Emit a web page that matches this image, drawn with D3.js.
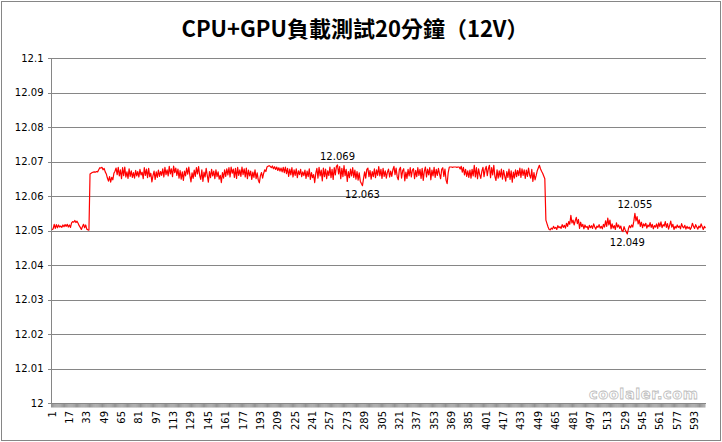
<!DOCTYPE html>
<html>
<head>
<meta charset="utf-8">
<script src="https://cdn.jsdelivr.net/npm/d3@7"></script>
<style>
  html, body { margin: 0; padding: 0; background: #fff; }
  svg { display: block; }
</style>
</head>
<body>
<div id="chart"></div>
<script>
const titleText = "CPU+GPU負載測試20分鐘（12V）";
const yTicks = [12, 12.01, 12.02, 12.03, 12.04, 12.05, 12.06, 12.07, 12.08, 12.09, 12.1];
const yDomain = [12, 12.1];
const xLabelStep = 16;

const idleStart = [
12.0502,12.0505,12.0518,12.0506,12.0517,12.0508,12.0516,12.0510,12.0513,12.0509,
12.0516,12.0511,12.0517,12.0512,12.0518,12.0510,12.0516,12.0509,12.0522,12.0526,
12.0524,12.0529,12.0523,12.0527,12.0521,12.0514,12.0509,12.0503,12.0511,12.0518,
12.0508,12.0516,12.0504,12.0502,12.0501
];
const loadPhase = [
12.0664,12.0666,12.0668,12.0669,12.0670,12.0669,12.0671,12.0670,12.0676,12.0682,12.0681,12.0683,12.0676,12.0680,12.0670,12.0664,12.0652,12.0643,12.0656,12.0640,
12.0654,12.0647,12.0666,12.0672,12.0681,12.0662,12.0683,12.0658,12.0676,12.0650,12.0682,12.0659,12.0684,12.0655,12.0670,12.0651,12.0679,12.0657,12.0673,12.0654,
12.0668,12.0652,12.0674,12.0658,12.0671,12.0655,12.0677,12.0661,12.0669,12.0650,12.0682,12.0660,12.0678,12.0653,12.0680,12.0656,12.0666,12.0641,12.0659,12.0672,
12.0648,12.0670,12.0654,12.0675,12.0657,12.0671,12.0660,12.0679,12.0655,12.0683,12.0662,12.0676,12.0658,12.0686,12.0664,12.0679,12.0656,12.0687,12.0668,12.0681,
12.0660,12.0678,12.0652,12.0674,12.0649,12.0670,12.0645,12.0672,12.0658,12.0681,12.0663,12.0684,12.0659,12.0641,12.0667,12.0651,12.0675,12.0657,12.0682,12.0664,
12.0685,12.0660,12.0648,12.0676,12.0642,12.0669,12.0655,12.0680,12.0660,12.0640,12.0671,12.0653,12.0677,12.0658,12.0672,12.0650,12.0676,12.0656,12.0670,12.0649,
12.0660,12.0639,12.0668,12.0652,12.0676,12.0657,12.0679,12.0661,12.0682,12.0655,12.0684,12.0666,12.0678,12.0654,12.0680,12.0651,12.0683,12.0660,12.0676,12.0657,
12.0684,12.0662,12.0679,12.0655,12.0681,12.0650,12.0675,12.0658,12.0672,12.0648,12.0669,12.0654,12.0676,12.0650,12.0667,12.0646,12.0638,12.0659,12.0668,12.0652,
12.0666,12.0676,12.0671,12.0684,12.0686,12.0688,12.0686,12.0682,12.0687,12.0679,12.0685,12.0677,12.0684,12.0674,12.0682,12.0672,12.0681,12.0670,12.0683,12.0668,
12.0684,12.0665,12.0680,12.0657,12.0678,12.0661,12.0682,12.0655,12.0676,12.0660,12.0679,12.0653,12.0673,12.0662,12.0677,12.0656,12.0670,12.0659,12.0675,12.0651,
12.0672,12.0656,12.0679,12.0648,12.0668,12.0653,12.0662,12.0639,12.0666,12.0680,12.0652,12.0683,12.0658,12.0675,12.0644,12.0681,12.0656,12.0678,12.0650,12.0673,
12.0659,12.0684,12.0653,12.0677,12.0648,12.0682,12.0661,12.0686,12.0690,12.0664,12.0685,12.0650,12.0680,12.0656,12.0688,12.0659,12.0677,12.0642,12.0671,12.0653,
12.0678,12.0658,12.0682,12.0654,12.0675,12.0649,12.0671,12.0646,12.0667,12.0643,12.0636,12.0630,12.0651,12.0670,12.0652,12.0677,12.0681,12.0656,12.0674,12.0649,
12.0671,12.0656,12.0679,12.0653,12.0676,12.0660,12.0685,12.0658,12.0677,12.0651,12.0680,12.0657,12.0673,12.0652,12.0669,12.0678,12.0655,12.0672,12.0657,12.0676,
12.0686,12.0662,12.0681,12.0656,12.0647,12.0677,12.0683,12.0652,12.0673,12.0679,12.0644,12.0669,12.0651,12.0677,12.0658,12.0682,12.0655,12.0675,12.0679,12.0650,
12.0674,12.0656,12.0682,12.0660,12.0677,12.0651,12.0680,12.0645,12.0672,12.0684,12.0655,12.0678,12.0661,12.0682,12.0647,12.0675,12.0658,12.0683,12.0654,12.0677,
12.0660,12.0680,12.0664,12.0650,12.0677,12.0682,12.0657,12.0678,12.0646,12.0636,12.0668,12.0684,12.0684,12.0684,12.0683,12.0684,12.0684,12.0684,12.0683,12.0684,
12.0684,12.0678,12.0686,12.0669,12.0683,12.0661,12.0677,12.0657,12.0673,12.0654,12.0675,12.0652,12.0677,12.0658,12.0689,12.0655,12.0682,12.0650,12.0679,12.0662,
12.0651,12.0672,12.0683,12.0656,12.0676,12.0686,12.0659,12.0679,12.0689,12.0653,12.0682,12.0661,12.0689,12.0657,12.0645,12.0676,12.0652,12.0673,12.0655,12.0678,
12.0649,12.0674,12.0658,12.0643,12.0671,12.0654,12.0678,12.0648,12.0673,12.0640,12.0669,12.0652,12.0676,12.0656,12.0674,12.0659,12.0681,12.0654,12.0679,12.0660,
12.0676,12.0651,12.0675,12.0657,12.0681,12.0661,12.0652,12.0677,12.0642,12.0668,12.0647,12.0659,12.0673,12.0681,12.0689,12.0679,12.0672,12.0666
];
const dropPhase = [12.0658, 12.0650, 12.0530, 12.0520];
const idleEnd = [
12.0510,12.0503,12.0502,12.0507,12.0504,12.0512,12.0506,12.0509,12.0503,12.0514,12.0508,12.0511,12.0506,12.0517,12.0509,12.0515,12.0507,12.0521,12.0512,12.0526,
12.0518,12.0544,12.0522,12.0530,12.0516,12.0528,12.0538,12.0520,12.0532,12.0506,12.0524,12.0511,12.0518,12.0505,12.0516,12.0509,12.0512,12.0503,12.0515,12.0508,
12.0514,12.0506,12.0519,12.0510,12.0504,12.0513,12.0509,12.0517,12.0507,12.0512,12.0505,12.0518,12.0510,12.0528,12.0512,12.0536,12.0516,12.0530,12.0505,12.0519,
12.0507,12.0514,12.0503,12.0522,12.0510,12.0516,12.0506,12.0513,12.0500,12.0497,12.0511,12.0502,12.0496,12.0490,12.0505,12.0514,12.0508,12.0516,12.0510,12.0527,
12.0550,12.0528,12.0540,12.0519,12.0531,12.0512,12.0524,12.0508,12.0519,12.0513,12.0521,12.0507,12.0516,12.0511,12.0523,12.0509,12.0518,12.0505,12.0514,12.0510,
12.0519,12.0506,12.0522,12.0511,12.0525,12.0508,12.0517,12.0513,12.0526,12.0509,12.0520,12.0504,12.0515,12.0527,12.0510,12.0518,12.0503,12.0512,12.0507,12.0516,
12.0509,12.0513,12.0505,12.0520,12.0511,12.0508,12.0515,12.0504,12.0512,12.0506,12.0510,12.0503,12.0509,12.0521,12.0512,12.0506,12.0517,12.0510,12.0504,12.0513,
12.0508,12.0519,12.0511,12.0503,12.0512,12.0507
];
// data labels: [category index (0-based), shown text, placement]
const dataLabels = [
  [263, "12.069", "above"],
  [286, "12.063", "below"],
  [537, "12.055", "above"],
  [530, "12.049", "below"]
];

const values = [].concat(idleStart, loadPhase, dropPhase, idleEnd);
const categories = values.map((v, i) => i + 1);

const W = 722, H = 442;
const m = { left: 51.5, right: 706, top: 58, bottom: 403 };
const gridColor = "#868686";

const svg = d3.select("#chart").append("svg")
  .attr("width", W).attr("height", H);

svg.append("rect").attr("x", 0).attr("y", 0).attr("width", W).attr("height", H).attr("fill", "#fff");
svg.append("rect").attr("x", 1.5).attr("y", 1.5).attr("width", W - 3).attr("height", H - 3)
  .attr("fill", "none").attr("stroke", gridColor).attr("stroke-width", 1);

svg.append("text")
  .attr("x", 355).attr("y", 37)
  .attr("text-anchor", "middle")
  .attr("font-family", "'Noto Sans CJK TC', 'Noto Sans', sans-serif")
  .attr("font-weight", "bold")
  .attr("font-size", 22)
  .attr("fill", "#000")
  .text(titleText);

const x = d3.scaleBand().domain(categories).range([m.left, m.right]).padding(0);
const y = d3.scaleLinear().domain(yDomain).range([m.bottom, m.top]);
const cx = c => x(c) + x.bandwidth() / 2;

// gridlines + y axis
const yAxis = d3.axisLeft(y).tickValues(yTicks).tickSize(-(m.right - m.left)).tickPadding(8)
  .tickFormat(d => d3.format("")(+d.toFixed(2)));
const gy = svg.append("g").attr("transform", `translate(${m.left},0)`).call(yAxis);
gy.select(".domain").remove();
gy.selectAll(".tick line").attr("stroke", gridColor).attr("x1", -4).attr("shape-rendering", "crispEdges");
gy.selectAll(".tick text").attr("font-family", "'DejaVu Sans', Verdana, sans-serif")
  .attr("font-size", 10).attr("fill", "#000");

svg.append("line").attr("x1", m.left).attr("x2", m.left).attr("y1", m.top).attr("y2", m.bottom)
  .attr("stroke", gridColor).attr("shape-rendering", "crispEdges");

// x axis: tick marks at each category boundary
const gx = svg.append("g");
gx.selectAll("line.tk").data(categories).join("line")
  .attr("class", "tk")
  .attr("x1", d => x(d)).attr("x2", d => x(d))
  .attr("y1", m.bottom).attr("y2", m.bottom + 4.5)
  .attr("stroke", gridColor).attr("stroke-width", 0.9);
gx.append("line").attr("x1", m.left).attr("x2", m.right).attr("y1", m.bottom).attr("y2", m.bottom)
  .attr("stroke", gridColor).attr("shape-rendering", "crispEdges");

const labeled = categories.filter((c, i) => i % xLabelStep === 0);
gx.selectAll("text.xl").data(labeled).join("text")
  .attr("class", "xl")
  .attr("transform", d => `translate(${cx(d) + 3.5},${m.bottom + 8}) rotate(-90)`)
  .attr("text-anchor", "end")
  .attr("font-family", "'DejaVu Sans', Verdana, sans-serif")
  .attr("font-size", 10)
  .attr("fill", "#000")
  .text(d => d);

// watermark
svg.append("text")
  .attr("x", 589).attr("y", 399)
  .attr("font-family", "'DejaVu Sans', sans-serif")
  .attr("font-weight", "bold")
  .attr("font-size", 14.5)
  .attr("letter-spacing", 0.6)
  .attr("fill", "#fff").attr("stroke", "#b5b5b5").attr("stroke-width", 0.8)
  .attr("opacity", 0.9)
  .text("coolaler.com");

// line
const line = d3.line().x((d, i) => cx(categories[i])).y(d => y(d));
svg.append("path").datum(values)
  .attr("d", line)
  .attr("fill", "none")
  .attr("stroke", "#ff0000")
  .attr("stroke-width", 1.2)
  .attr("stroke-linejoin", "round");

// data labels
svg.selectAll("text.dl").data(dataLabels).join("text")
  .attr("class", "dl")
  .attr("x", d => cx(categories[d[0]]))
  .attr("y", d => d[2] === "above" ? y(values[d[0]]) - 5 : y(values[d[0]]) + 12)
  .attr("text-anchor", "middle")
  .attr("font-family", "'DejaVu Sans', Verdana, sans-serif")
  .attr("font-size", 10)
  .attr("fill", "#000")
  .text(d => d[1]);
</script>
</body>
</html>
